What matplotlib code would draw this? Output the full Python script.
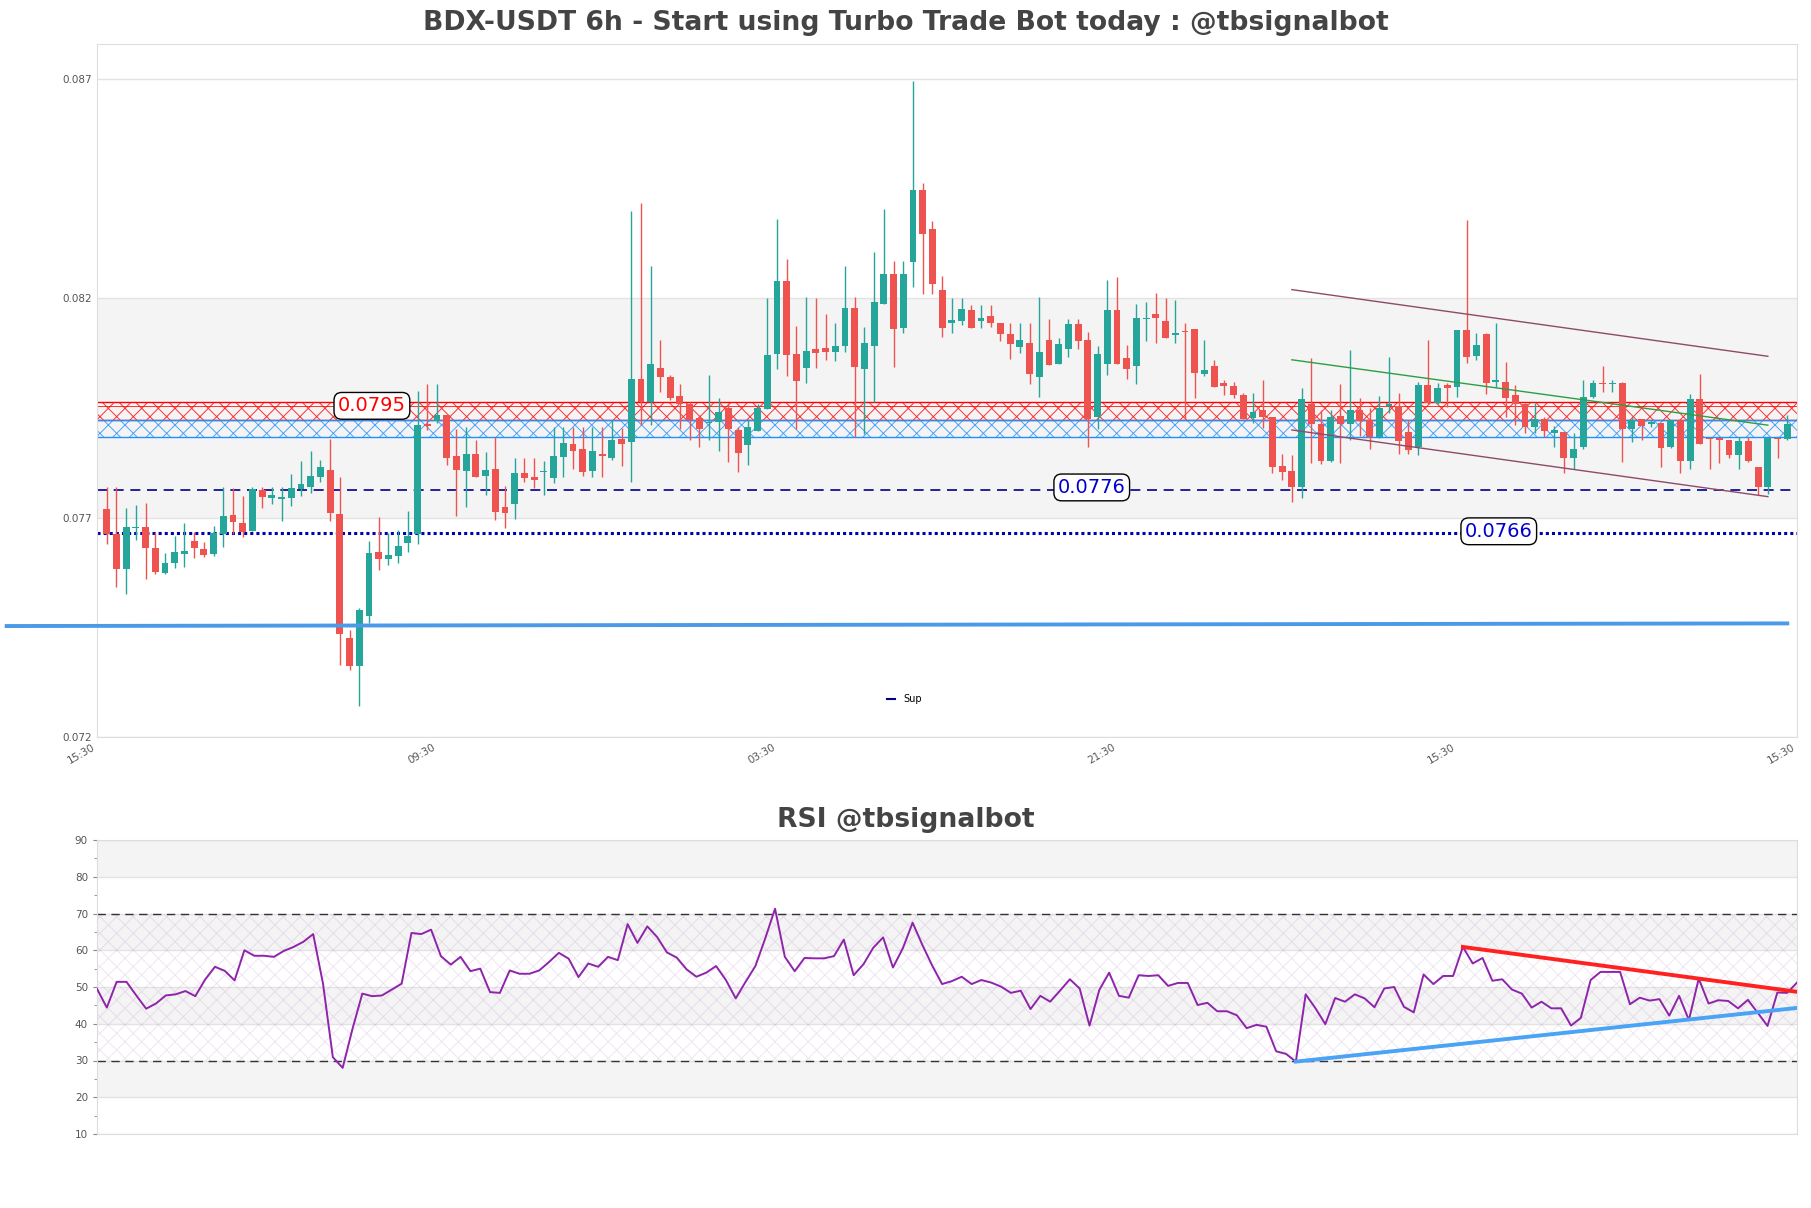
import matplotlib
matplotlib.use('Agg')

import numpy as np
import matplotlib.pyplot as plt
from matplotlib.lines import Line2D

# ---- candle data (6h BDX-USDT) ----
opens = [0.07720, 0.07663, 0.07584, 0.07677, 0.07679, 0.07630, 0.07575, 0.07597, 0.07618, 0.07647,
         0.07628, 0.07617, 0.07662, 0.07706, 0.07689, 0.07670, 0.07763, 0.07746, 0.07743, 0.07746,
         0.07765, 0.07771, 0.07793, 0.07809, 0.07708, 0.07426, 0.07363, 0.07476, 0.07622, 0.07606,
         0.07612, 0.07643, 0.07662, 0.07913, 0.07921, 0.07934, 0.07840, 0.07807, 0.07846, 0.07795,
         0.07811, 0.07725, 0.07731, 0.07803, 0.07793, 0.07804, 0.07791, 0.07839, 0.07869, 0.07856,
         0.07807, 0.07845, 0.07835, 0.07879, 0.07873, 0.08017, 0.07964, 0.08042, 0.08020, 0.07977,
         0.07959, 0.07928, 0.07915, 0.07919, 0.07951, 0.07901, 0.07865, 0.07898, 0.07947, 0.08073,
         0.08239, 0.08073, 0.08042, 0.08085, 0.08086, 0.08078, 0.08092, 0.08177, 0.08039, 0.08092,
         0.08188, 0.08255, 0.08133, 0.08283, 0.08447, 0.08359, 0.08219, 0.08143, 0.08149, 0.08173,
         0.08149, 0.08160, 0.08144, 0.08118, 0.08090, 0.08099, 0.08021, 0.08105, 0.08050, 0.08084,
         0.08141, 0.08105, 0.07930, 0.08050, 0.08173, 0.08065, 0.08046, 0.08153, 0.08164, 0.08148,
         0.08116, 0.08125, 0.08130, 0.08027, 0.08045, 0.08006, 0.08000, 0.07979, 0.07928, 0.07945,
         0.07929, 0.07818, 0.07806, 0.07771, 0.07960, 0.07913, 0.07830, 0.07932, 0.07913, 0.07945,
         0.07922, 0.07884, 0.07955, 0.07954, 0.07896, 0.07862, 0.08002, 0.07962, 0.08002, 0.07998,
         0.08129, 0.08069, 0.08118, 0.08010, 0.08010, 0.07979, 0.07960, 0.07907, 0.07924, 0.07894,
         0.07896, 0.07837, 0.07862, 0.07976, 0.08006, 0.08005, 0.08006, 0.07903, 0.07926, 0.07913,
         0.07916, 0.07862, 0.07922, 0.07830, 0.07970, 0.07882, 0.07881, 0.07877, 0.07843, 0.07875,
         0.07815, 0.07771, 0.07882, 0.07879]
closes = [0.07662, 0.07584, 0.07679, 0.07679, 0.07632, 0.07577, 0.07597, 0.07621, 0.07624, 0.07632,
          0.07616, 0.07664, 0.07704, 0.07691, 0.07668, 0.07765, 0.07748, 0.07751, 0.07747, 0.07767,
          0.07776, 0.07795, 0.07816, 0.07710, 0.07434, 0.07363, 0.07489, 0.07619, 0.07606, 0.07615,
          0.07635, 0.07658, 0.07911, 0.07910, 0.07934, 0.07837, 0.07808, 0.07846, 0.07793, 0.07808,
          0.07713, 0.07710, 0.07803, 0.07791, 0.07787, 0.07806, 0.07840, 0.07871, 0.07853, 0.07805,
          0.07852, 0.07841, 0.07877, 0.07869, 0.08017, 0.07964, 0.08050, 0.08021, 0.07973, 0.07960,
          0.07922, 0.07902, 0.07919, 0.07941, 0.07902, 0.07848, 0.07906, 0.07949, 0.08071, 0.08239,
          0.08071, 0.08011, 0.08080, 0.08076, 0.08078, 0.08091, 0.08177, 0.08044, 0.08099, 0.08191,
          0.08255, 0.08130, 0.08255, 0.08447, 0.08346, 0.08232, 0.08133, 0.08150, 0.08175, 0.08133,
          0.08156, 0.08143, 0.08118, 0.08095, 0.08105, 0.08027, 0.08077, 0.08048, 0.08096, 0.08141,
          0.08103, 0.07926, 0.08073, 0.08173, 0.08050, 0.08039, 0.08156, 0.08154, 0.08156, 0.08110,
          0.08121, 0.08123, 0.08029, 0.08036, 0.07998, 0.08001, 0.07979, 0.07926, 0.07941, 0.07930,
          0.07816, 0.07805, 0.07771, 0.07970, 0.07913, 0.07829, 0.07930, 0.07913, 0.07945, 0.07921,
          0.07884, 0.07951, 0.07959, 0.07875, 0.07854, 0.08002, 0.07962, 0.07995, 0.07996, 0.08129,
          0.08067, 0.08093, 0.08008, 0.08014, 0.07974, 0.07960, 0.07907, 0.07926, 0.07898, 0.07900,
          0.07835, 0.07856, 0.07976, 0.08006, 0.08004, 0.08006, 0.07903, 0.07922, 0.07910, 0.07919,
          0.07860, 0.07922, 0.07830, 0.07970, 0.07869, 0.07879, 0.07877, 0.07843, 0.07875, 0.07830,
          0.07771, 0.07882, 0.07879, 0.07913]
highs = [0.07771, 0.07771, 0.07721, 0.07728, 0.07733, 0.07668, 0.07620, 0.07658, 0.07687, 0.07668,
         0.07644, 0.07680, 0.07771, 0.07767, 0.07749, 0.07771, 0.07771, 0.07771, 0.07771, 0.07800,
         0.07829, 0.07852, 0.07831, 0.07879, 0.07793, 0.07444, 0.07495, 0.07647, 0.07702, 0.07664,
         0.07673, 0.07715, 0.07989, 0.08005, 0.08005, 0.07934, 0.07903, 0.07907, 0.07878, 0.07849,
         0.07884, 0.07772, 0.07837, 0.07835, 0.07837, 0.07829, 0.07907, 0.07907, 0.07907, 0.07907,
         0.07907, 0.07907, 0.07923, 0.07905, 0.08399, 0.08418, 0.08273, 0.08105, 0.08025, 0.08005,
         0.07964, 0.07934, 0.08025, 0.07972, 0.07962, 0.07907, 0.07926, 0.07959, 0.08200, 0.08380,
         0.08289, 0.08137, 0.08203, 0.08200, 0.08164, 0.08145, 0.08273, 0.08203, 0.08135, 0.08305,
         0.08403, 0.08286, 0.08286, 0.08695, 0.08464, 0.08376, 0.08251, 0.08200, 0.08200, 0.08185,
         0.08186, 0.08186, 0.08144, 0.08145, 0.08145, 0.08145, 0.08204, 0.08154, 0.08110, 0.08154,
         0.08154, 0.08124, 0.08092, 0.08242, 0.08248, 0.08093, 0.08187, 0.08192, 0.08213, 0.08200,
         0.08197, 0.08143, 0.08130, 0.08105, 0.08059, 0.08014, 0.08010, 0.07985, 0.07985, 0.08014,
         0.07929, 0.07846, 0.07843, 0.07995, 0.08065, 0.07945, 0.07945, 0.08004, 0.08083, 0.07973,
         0.07949, 0.07977, 0.08067, 0.07985, 0.07922, 0.08010, 0.08105, 0.08008, 0.08008, 0.08129,
         0.08379, 0.08120, 0.08120, 0.08143, 0.08055, 0.08002, 0.07962, 0.07962, 0.07930, 0.07909,
         0.07896, 0.07892, 0.08014, 0.08014, 0.08046, 0.08014, 0.08010, 0.07930, 0.07926, 0.07922,
         0.07916, 0.07922, 0.07922, 0.07981, 0.08027, 0.07882, 0.07882, 0.07878, 0.07884, 0.07884,
         0.07815, 0.07882, 0.07882, 0.07934]
lows = [0.07639, 0.07543, 0.07525, 0.07649, 0.07560, 0.07571, 0.07571, 0.07585, 0.07588, 0.07607,
        0.07610, 0.07613, 0.07634, 0.07663, 0.07657, 0.07670, 0.07723, 0.07732, 0.07693, 0.07727,
        0.07750, 0.07756, 0.07782, 0.07693, 0.07364, 0.07353, 0.07271, 0.07459, 0.07581, 0.07593,
        0.07597, 0.07622, 0.07639, 0.07900, 0.07915, 0.07820, 0.07704, 0.07725, 0.07793, 0.07751,
        0.07695, 0.07677, 0.07697, 0.07782, 0.07768, 0.07751, 0.07780, 0.07793, 0.07810, 0.07795,
        0.07793, 0.07793, 0.07831, 0.07818, 0.07782, 0.07911, 0.07911, 0.07987, 0.07968, 0.07903,
        0.07877, 0.07862, 0.07877, 0.07853, 0.07828, 0.07805, 0.07820, 0.07898, 0.07947, 0.08040,
        0.08023, 0.07903, 0.08007, 0.08042, 0.08059, 0.08057, 0.08078, 0.07883, 0.07890, 0.07964,
        0.08188, 0.08044, 0.08120, 0.08226, 0.08211, 0.08211, 0.08112, 0.08122, 0.08139, 0.08133,
        0.08133, 0.08135, 0.08103, 0.08061, 0.08076, 0.08004, 0.07976, 0.08048, 0.08050, 0.08067,
        0.08084, 0.07862, 0.07903, 0.08025, 0.08050, 0.08017, 0.08004, 0.08102, 0.08099, 0.08109,
        0.08099, 0.07925, 0.07973, 0.08023, 0.07997, 0.07979, 0.07972, 0.07925, 0.07915, 0.07905,
        0.07803, 0.07786, 0.07736, 0.07744, 0.07825, 0.07822, 0.07826, 0.07825, 0.07877, 0.07886,
        0.07856, 0.07881, 0.07938, 0.07846, 0.07846, 0.07843, 0.07960, 0.07960, 0.07953, 0.07976,
        0.08052, 0.08059, 0.07983, 0.07998, 0.07930, 0.07911, 0.07892, 0.07892, 0.07884, 0.07862,
        0.07801, 0.07812, 0.07856, 0.07974, 0.07987, 0.07987, 0.07827, 0.07873, 0.07877, 0.07907,
        0.07816, 0.07860, 0.07802, 0.07812, 0.07869, 0.07812, 0.07825, 0.07835, 0.07812, 0.07828,
        0.07751, 0.07754, 0.07837, 0.07877]

rsi = [49.5, 44.4, 51.4, 51.4, 47.7, 44.1, 45.5, 47.7, 48.0, 48.9,
       47.5, 52.0, 55.5, 54.4, 51.8, 60.0, 58.5, 58.5, 58.2, 59.8,
       60.9, 62.3, 64.4, 50.9, 30.9, 28.0, 38.6, 48.2, 47.5, 47.7,
       49.3, 50.9, 64.7, 64.4, 65.6, 58.4, 56.1, 58.2, 54.3, 55.0,
       48.6, 48.4, 54.5, 53.6, 53.6, 54.5, 56.8, 59.3, 57.7, 52.7,
       56.4, 55.5, 58.2, 57.3, 67.1, 62.0, 66.5, 63.6, 59.4, 58.0,
       54.8, 52.8, 53.9, 55.7, 51.9, 46.9, 51.4, 55.7, 63.2, 71.3,
       58.2, 54.3, 57.9, 57.8, 57.8, 58.4, 62.9, 53.2, 56.2, 60.7,
       63.5, 55.3, 60.5, 67.5, 61.4, 55.8, 50.8, 51.6, 52.8, 50.8,
       51.9, 51.2, 50.1, 48.4, 49.0, 44.0, 47.6, 46.0, 49.0, 52.1,
       49.6, 39.5, 49.2, 53.9, 47.6, 47.1, 53.2, 53.0, 53.2, 50.3,
       51.1, 51.1, 45.1, 45.7, 43.4, 43.4, 42.3, 38.8, 39.7, 39.2,
       32.5, 31.8, 29.7, 48.0, 44.2, 39.9, 47.0, 46.0, 48.0, 46.9,
       44.5, 49.6, 50.0, 44.6, 43.1, 53.4, 50.8, 53.0, 53.0, 60.9,
       56.4, 57.9, 51.7, 52.1, 49.3, 48.2, 44.4, 46.0, 44.2, 44.2,
       39.5, 41.6, 51.9, 54.1, 54.1, 54.1, 45.3, 47.1, 46.3, 46.7,
       42.2, 47.6, 41.0, 52.3, 45.5, 46.4, 46.2, 44.2, 46.5, 43.0,
       39.4, 48.5, 48.4, 51.2]

time_labels = ['15:30', '09:30', '03:30', '21:30', '15:30', '15:30']

# levels / zones
resist_zone = (0.07922, 0.07964)
support_zone = (0.07883, 0.07922)
level_dash = 0.07764
level_dot = 0.07664
sup_line = (0.07453, 0.07459)

# channel lines (start idx, end idx, start price, end price)
chan_upper = (122, 171, 0.08220, 0.08068)
chan_mid = (122, 171, 0.08060, 0.07911)
chan_lower = (122, 171, 0.07900, 0.07748)

# rsi trend lines
rsi_res = (139, 173, 60.9, 48.7)
rsi_sup = (122, 173, 29.7, 44.3)

UP = '#26a69a'
DOWN = '#ef5350'
GRID = '#e3e3e3'
plt.rcParams['hatch.linewidth'] = 0.7

fig = plt.figure(figsize=(18.11, 12.08), dpi=100)
W, H = 1811, 1208
ax = fig.add_axes([97 / W, 1 - 737 / H, 1700 / W, 693 / H])
ax2 = fig.add_axes([97 / W, 1 - 1134 / H, 1700 / W, 294 / H])

o = np.array(opens); c = np.array(closes)
hi = np.array(highs); lo = np.array(lows)
n = len(o)
x = np.arange(n)
cols = np.where(c >= o, UP, DOWN)

# background band + zones
ax.axhspan(0.077, 0.082, color='#f4f4f4', zorder=0, lw=0)
ax.axhspan(*resist_zone, facecolor='none', edgecolor=(1, 0, 0, 0.8), hatch='xx', lw=0, zorder=2)
ax.axhspan(*support_zone, facecolor='none', edgecolor=(0.12, 0.56, 1, 0.8), hatch='xx', lw=0, zorder=2)
for yv in resist_zone:
    ax.axhline(yv, color='red', lw=1, zorder=2)
ax.axhline(0.07955, color='red', lw=0.7, alpha=0.8, zorder=2)
for yv in support_zone:
    ax.axhline(yv, color='#1e90ff', lw=1, zorder=2)

ax.axhline(level_dash, color='#00008b', lw=1.2, ls=(0, (6, 4)), zorder=2)
ax.axhline(level_dot, color='#0000b0', lw=2.2, ls=(0, (1, 1)), zorder=2)

# candles
ax.vlines(x, lo, hi, colors=cols, lw=1, zorder=3)
ax.bar(x, np.maximum(np.abs(c - o), 0.00002), bottom=np.minimum(o, c), width=0.7,
       color=cols, zorder=4)

# channel
for (x0, x1, y0, y1), col in [(chan_upper, '#8e4a6a'), (chan_mid, '#2e9e44'), (chan_lower, '#8e4a6a')]:
    ax.plot([x0, x1], [y0, y1], color=col, lw=1, zorder=5)

# long support line, runs past the left spine
ax.plot([-10.3, n - 1], list(sup_line), color='#4a9ae8', lw=2.8, zorder=5, clip_on=False)

box = dict(boxstyle='round,pad=0.2,rounding_size=0.4', fc='white', ec='black', lw=1)
lift = 0.00005
ax.text(27.3, 0.0795 + lift, '0.0795', color='red', fontsize=14, ha='center', va='center', bbox=box, zorder=6)
ax.text(101.4, level_dash + lift, '0.0776', color='#0000cc', fontsize=14, ha='center', va='center', bbox=box, zorder=6)
ax.text(143.3, level_dot + lift, '0.0766', color='#0000cc', fontsize=14, ha='center', va='center', bbox=box, zorder=6)

ax.legend(handles=[Line2D([], [], color='#00008b', lw=1.5)], labels=['Sup'], loc='lower center',
          bbox_to_anchor=(0.475, 0.035), frameon=False, fontsize=7, handlelength=0.8)

ax.set_xlim(-1, n)
ax.set_ylim(0.072, 0.0878)
ax.set_yticks([0.072, 0.077, 0.082, 0.087])
ax.set_yticklabels(['0.072', '0.077', '0.082', '0.087'])
ax.set_xticks(np.linspace(-1, n, len(time_labels)))
ax.set_xticklabels(time_labels, rotation=30, ha='right')
ax.tick_params(labelsize=7.5, labelcolor='#555555', length=0)
ax.grid(axis='y', color=GRID, lw=1, zorder=1)
ax.set_axisbelow(True)
for s in ax.spines.values():
    s.set_color('#dddddd')

# ---- RSI panel ----
for lo_b in (20, 40, 60, 80):
    ax2.axhspan(lo_b, lo_b + 10, color='#f4f4f4', lw=0, zorder=0)
ax2.axhspan(30, 70, facecolor='none', edgecolor=(0.6, 0.3, 0.7, 0.15), hatch='xx', lw=0, zorder=1)
ax2.axhline(70, color='#333333', lw=1, ls=(0, (6, 4)), zorder=2)
ax2.axhline(30, color='#333333', lw=1, ls=(0, (6, 4)), zorder=2)
ax2.plot(np.arange(len(rsi)), rsi, color='#8e24aa', lw=1.4, zorder=3)
ax2.plot(list(rsi_res[:2]), list(rsi_res[2:]), color='#ff2020', lw=2.8, zorder=4)
ax2.plot(list(rsi_sup[:2]), list(rsi_sup[2:]), color='#4aa3f5', lw=2.8, zorder=4)

ax2.set_xlim(0, len(rsi) - 1)
ax2.set_ylim(10, 90)
ax2.set_yticks(range(10, 91, 10))
ax2.set_yticks(range(15, 90, 10), minor=True)
ax2.set_xticks([])
ax2.tick_params(axis='y', which='both', labelsize=7.5, labelcolor='#555555', color='#888888', length=3)
ax2.tick_params(axis='y', which='minor', length=2)
ax2.grid(axis='y', which='major', color=GRID, lw=1, zorder=1)
ax2.set_axisbelow(True)
for s in ax2.spines.values():
    s.set_color('#dddddd')

fig.text(0.5, 1 - 23 / H, 'BDX-USDT 6h - Start using Turbo Trade Bot today : @tbsignalbot',
         ha='center', va='center', fontsize=19.2, fontweight='bold', color='#444444')
fig.text(0.5, 1 - 820 / H, 'RSI @tbsignalbot', ha='center', va='center',
         fontsize=19.2, fontweight='bold', color='#444444')

fig.savefig('out.png', dpi=100)
plt.close(fig)
